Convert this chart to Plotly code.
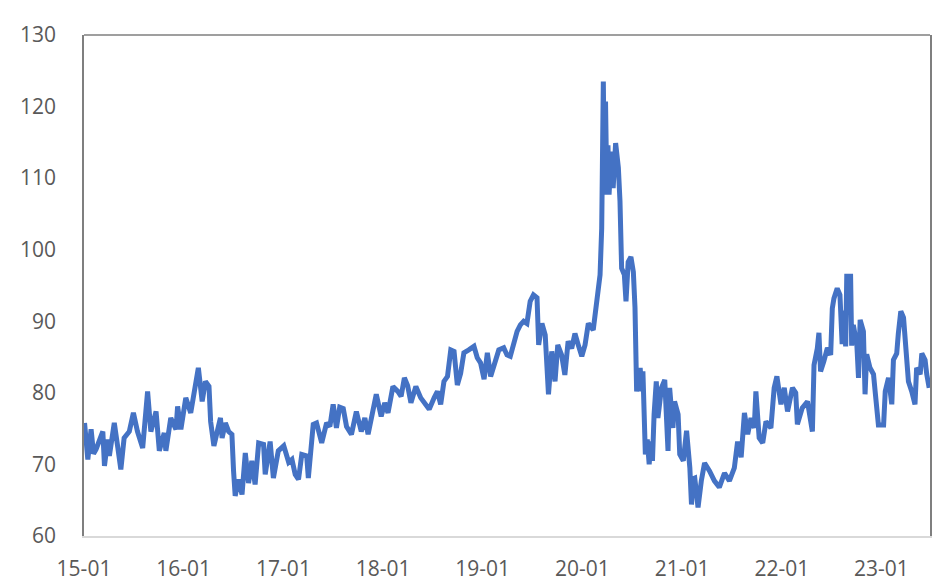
import plotly.graph_objects as go

dates = [
    "2015-01-03", "2015-01-09", "2015-01-15", "2015-01-27", "2015-02-05", "2015-02-14", "2015-02-26",
    "2015-03-11", "2015-03-17", "2015-03-29", "2015-04-04", "2015-04-22", "2015-05-04", "2015-05-16",
    "2015-05-28", "2015-06-16", "2015-07-01", "2015-07-16", "2015-08-04", "2015-08-22", "2015-09-03",
    "2015-09-22", "2015-10-04", "2015-10-22", "2015-10-28", "2015-11-15", "2015-12-04", "2015-12-10",
    "2015-12-22", "2016-01-09", "2016-01-27", "2016-02-08", "2016-02-24", "2016-03-09", "2016-03-21",
    "2016-04-03", "2016-04-09", "2016-04-21", "2016-05-03", "2016-05-15", "2016-05-21", "2016-06-02",
    "2016-06-14", "2016-06-26", "2016-07-02", "2016-07-08", "2016-07-20", "2016-08-02", "2016-08-14",
    "2016-08-26", "2016-09-07", "2016-09-19", "2016-10-02", "2016-10-20", "2016-10-26", "2016-11-13",
    "2016-11-25", "2016-12-13", "2017-01-02", "2017-01-20", "2017-02-01", "2017-02-13", "2017-02-25",
    "2017-03-09", "2017-03-27", "2017-04-02", "2017-04-20", "2017-05-02", "2017-05-21", "2017-06-08",
    "2017-06-20", "2017-07-02", "2017-07-14", "2017-07-26", "2017-08-08", "2017-08-20", "2017-09-07",
    "2017-09-25", "2017-10-13", "2017-10-26", "2017-11-07", "2017-11-19", "2017-12-07", "2017-12-25",
    "2018-01-07", "2018-01-19", "2018-02-06", "2018-02-24", "2018-03-08", "2018-03-20", "2018-04-01",
    "2018-04-13", "2018-05-01", "2018-05-19", "2018-06-07", "2018-06-19", "2018-07-07", "2018-07-19",
    "2018-07-31", "2018-08-12", "2018-08-25", "2018-09-06", "2018-09-18", "2018-09-30", "2018-10-12",
    "2018-10-24", "2018-11-11", "2018-11-30", "2018-12-12", "2018-12-24", "2019-01-06", "2019-01-18",
    "2019-01-30", "2019-02-11", "2019-03-01", "2019-03-19", "2019-03-31", "2019-04-12", "2019-04-25",
    "2019-05-07", "2019-05-19", "2019-05-31", "2019-06-12", "2019-06-24", "2019-07-06", "2019-07-19",
    "2019-07-25", "2019-08-06", "2019-08-18", "2019-08-24", "2019-08-30", "2019-09-11", "2019-09-23",
    "2019-10-03", "2019-10-17", "2019-10-29", "2019-11-10", "2019-11-23", "2019-12-05", "2019-12-17",
    "2019-12-30", "2020-01-11", "2020-01-23", "2020-02-10", "2020-02-23", "2020-03-06", "2020-03-12",
    "2020-03-18", "2020-03-22", "2020-03-26", "2020-03-31", "2020-04-04", "2020-04-08", "2020-04-16",
    "2020-04-23", "2020-05-02", "2020-05-12", "2020-05-18", "2020-05-24", "2020-06-03", "2020-06-09",
    "2020-06-17", "2020-06-27", "2020-07-06", "2020-07-12", "2020-07-18", "2020-07-31", "2020-08-06",
    "2020-08-10", "2020-08-14", "2020-08-19", "2020-08-26", "2020-09-02", "2020-09-08", "2020-09-14",
    "2020-09-20", "2020-09-28", "2020-10-04", "2020-10-17", "2020-10-29", "2020-11-04", "2020-11-10",
    "2020-11-16", "2020-11-28", "2020-12-04", "2020-12-17", "2020-12-23", "2021-01-05", "2021-01-17",
    "2021-01-29", "2021-02-04", "2021-02-10", "2021-02-16", "2021-02-28", "2021-03-12", "2021-03-24",
    "2021-04-11", "2021-04-29", "2021-05-17", "2021-06-05", "2021-06-23", "2021-07-11", "2021-07-23",
    "2021-08-05", "2021-08-17", "2021-08-29", "2021-09-10", "2021-09-22", "2021-09-28", "2021-10-10",
    "2021-10-23", "2021-11-04", "2021-11-22", "2021-12-04", "2021-12-14", "2021-12-29", "2022-01-10",
    "2022-01-22", "2022-02-09", "2022-02-21", "2022-02-27", "2022-03-17", "2022-04-05", "2022-04-23",
    "2022-04-29", "2022-05-11", "2022-05-17", "2022-05-23", "2022-06-04", "2022-06-17", "2022-06-29",
    "2022-07-05", "2022-07-11", "2022-07-23", "2022-08-02", "2022-08-10", "2022-08-16", "2022-08-23",
    "2022-08-27", "2022-09-10", "2022-09-14", "2022-09-20", "2022-10-03", "2022-10-09", "2022-10-15",
    "2022-10-27", "2022-11-02", "2022-11-08", "2022-11-20", "2022-12-03", "2022-12-09", "2022-12-15",
    "2022-12-21", "2023-01-09", "2023-01-15", "2023-01-27", "2023-02-08", "2023-02-14", "2023-02-26",
    "2023-03-04", "2023-03-13", "2023-03-23", "2023-03-29", "2023-04-10", "2023-04-22", "2023-05-04",
    "2023-05-10", "2023-05-23", "2023-05-29", "2023-06-10", "2023-06-16", "2023-06-25",
]

values = [
    75.8, 72.0, 70.7, 74.9, 71.5, 72.1, 73.5,
    74.6, 69.8, 73.5, 71.2, 75.8, 72.6, 69.3,
    73.7, 74.6, 77.2, 74.6, 72.3, 80.2, 74.6,
    77.4, 71.9, 74.4, 71.9, 76.5, 74.9, 78.1,
    74.9, 79.3, 77.2, 80.0, 83.5, 78.8, 81.6,
    80.9, 76.0, 72.6, 74.6, 76.5, 73.7, 75.8,
    74.6, 74.2, 69.1, 65.6, 67.9, 65.8, 71.6,
    67.4, 70.5, 67.2, 73.0, 72.8, 68.6, 73.2,
    68.1, 71.9, 72.6, 70.3, 70.7, 68.6, 67.9,
    71.4, 71.2, 68.1, 75.6, 75.8, 73.0, 75.8,
    75.3, 78.4, 75.1, 78.0, 77.8, 75.3, 74.2,
    77.4, 74.6, 76.5, 74.2, 76.5, 79.8, 76.7,
    78.6, 77.2, 80.9, 80.2, 79.5, 82.1, 81.0,
    78.6, 80.9, 79.3, 78.4, 77.7, 79.3, 80.2,
    78.4, 81.6, 82.3, 86.0, 85.8, 81.1, 82.7,
    85.6, 86.0, 86.5, 84.9, 84.2, 81.9, 85.6,
    82.3, 84.0, 86.0, 86.3, 85.3, 85.1, 87.2,
    88.6, 89.5, 90.0, 89.7, 92.8, 93.7, 93.3,
    86.7, 89.7, 88.1, 84.4, 79.8, 85.8, 81.6,
    86.7, 85.3, 82.5, 87.2, 86.2, 88.3, 86.7,
    85.1, 86.7, 89.7, 88.8, 92.8, 96.5, 103.0,
    123.5, 108.0, 120.7, 107.7, 114.6, 107.7, 113.7,
    108.6, 114.9, 111.5, 106.8, 97.4, 96.5, 92.8,
    98.3, 99.0, 96.9, 91.9, 80.2, 83.5, 80.2,
    83.0, 77.0, 71.4, 73.5, 70.0, 73.2, 70.5,
    77.0, 81.6, 76.5, 80.7, 81.8, 76.5, 71.9,
    80.7, 75.1, 78.8, 77.0, 71.4, 70.5, 74.7,
    69.5, 64.4, 68.0, 68.1, 64.0, 67.7, 70.2,
    69.1, 67.7, 66.8, 68.8, 67.7, 69.5, 73.2,
    71.0, 77.2, 74.2, 76.5, 75.1, 80.2, 73.7,
    73.0, 76.0, 75.1, 80.7, 82.3, 78.4, 80.7,
    77.4, 80.7, 80.0, 75.6, 77.9, 78.8, 74.6,
    83.9, 86.2, 88.4, 83.0, 84.4, 86.3, 85.3,
    91.8, 93.2, 94.6, 93.7, 86.8, 91.5, 86.5,
    96.3, 96.3, 86.6, 89.5, 86.7, 82.1, 90.2,
    88.6, 79.8, 85.4, 83.5, 82.6, 80.2, 77.9,
    75.5, 75.5, 80.2, 82.1, 78.4, 84.6, 85.5,
    88.3, 91.4, 90.5, 87.2, 81.6, 80.2, 78.4,
    83.5, 82.6, 85.5, 84.6, 82.6, 80.7,
]

fig = go.Figure()
fig.add_trace(go.Scatter(
    x=dates, y=values, mode="lines",
    line=dict(color="#4472C4", width=5, shape="linear"),
    hoverinfo="skip", showlegend=False,
))

font = dict(family="Open Sans, Noto Sans, sans-serif", size=21, color="#595959")

fig.update_layout(
    width=944, height=586,
    margin=dict(l=73, r=22, t=24, b=53),
    paper_bgcolor="white", plot_bgcolor="white",
    font=font,
    xaxis=dict(
        type="date",
        range=["2015-01-01", "2023-06-28"],
        tickformat="%y-%m", dtick="M12", tick0="2015-01-01",
        showgrid=False, zeroline=False,
        showline=True, linecolor="#D9D9D9", linewidth=2,
        ticks="", ticklabelstandoff=13,
        tickfont=font,
    ),
    yaxis=dict(
        range=[60, 130], dtick=10, tick0=60,
        showgrid=False, zeroline=False,
        showline=True, linecolor="#7F7F7F", linewidth=1.5, mirror=True,
        ticks="", ticklabelstandoff=22,
        tickfont=font,
    ),
    shapes=[dict(type="line", xref="paper", yref="paper", x0=0, x1=1, y0=1, y1=1,
                 line=dict(color="#7F7F7F", width=1.5))],
)

fig.write_html("out.html")
